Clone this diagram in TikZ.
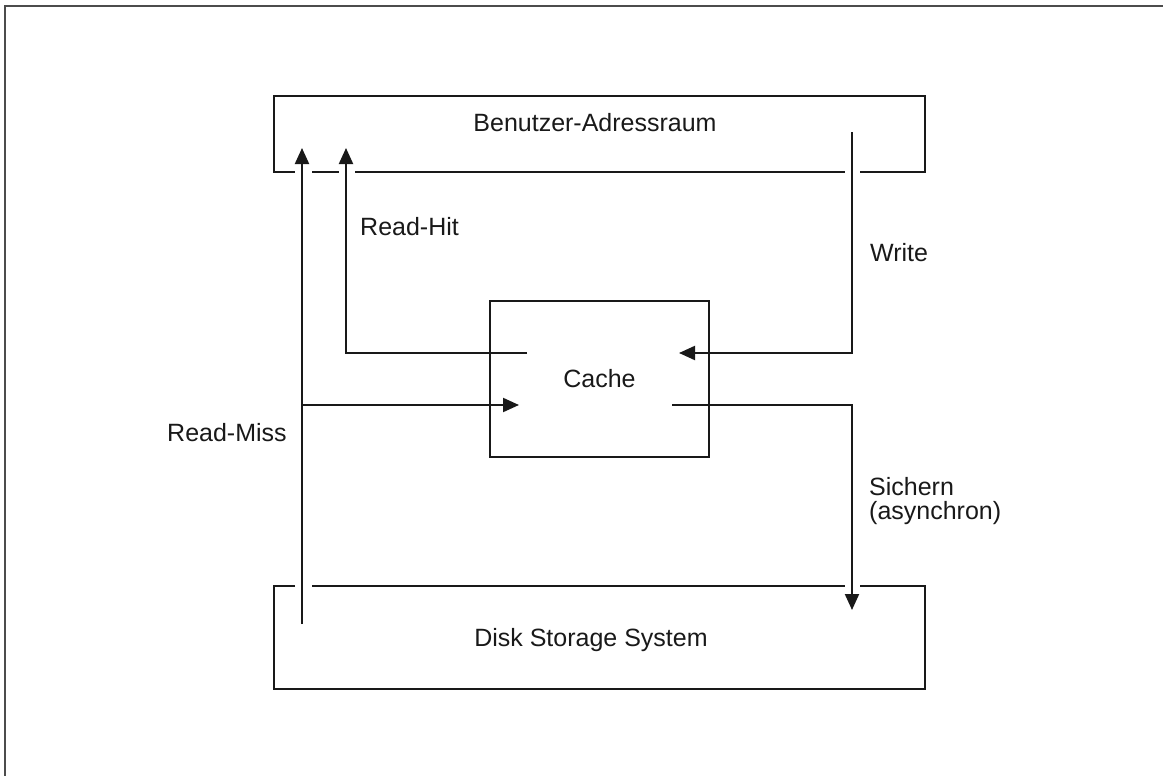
\documentclass[tikz,border=0pt]{standalone}
\usepackage{fontspec}
\setmainfont{Liberation Sans}
\usetikzlibrary{arrows.meta,positioning,calc}

\begin{document}
\begin{tikzpicture}[
  x=1pt, y=-1pt,
  line/.style={line width=2.1pt, black!90},
  arrow/.style={line, -{Triangle[length=16pt,width=14pt]}},
  lbl/.style={font=\fontsize{25}{24}\selectfont, text=black!90, inner sep=0pt},
  cachebox/.style={draw, line width=2.1pt, black!90, minimum width=219pt, minimum height=156pt, inner sep=0pt}
]
  \useasboundingbox (0,0) rectangle (1163,776);
  % outer frame (top and left only)
  \draw[line width=2.6pt, black!70] (5,776) -- (5,6) -- (1163,6);

  % Benutzer-Adressraum (bottom edge broken where the arrows pass)
  \draw[line] (860,172) -- (925,172) -- (925,96) -- (274,96) -- (274,172) -- (295,172);
  \draw[line] (312,172) -- (339,172);
  \draw[line] (355,172) -- (845,172);
  \node[lbl] (user) at (595,123) {Benutzer-Adressraum};

  % Disk Storage System (top edge broken where the arrows pass)
  \draw[line] (295,586) -- (274,586) -- (274,689) -- (925,689) -- (925,586) -- (860,586);
  \draw[line] (312,586) -- (845,586);
  \node[lbl] (disk) at (591,640) {Disk Storage System};

  % cache
  \node[cachebox, lbl, draw] (cache) at (599.5,379) {Cache};

  % connectors
  \coordinate (hit-out) at (527,353);
  \coordinate (hit-top) at (346,148);
  \coordinate (write-top) at (852,132);
  \coordinate (write-in) at (679,353);
  \coordinate (miss-bot) at (302,624);
  \coordinate (miss-top) at (302,148);
  \coordinate (miss-in) at (519,405);
  \coordinate (save-out) at (672,405);
  \coordinate (save-bot) at (852,610);

  \draw[arrow] (hit-out) -| (hit-top);
  \draw[arrow] (write-top) |- (write-in);
  \draw[arrow] (miss-bot) -- (miss-top);
  \draw[arrow] (miss-bot |- miss-in) -- (miss-in);
  \draw[arrow] (save-out) -| (save-bot);

  % labels
  \node[lbl, anchor=west] (hit-lbl) at (360,227) {Read-Hit};
  \node[lbl, anchor=west] (write-lbl) at (870,253) {Write};
  \node[lbl, anchor=west] (miss-lbl) at (167,433) {Read-Miss};
  \node[lbl, anchor=north west, align=left] (save-lbl) at (869,477) {Sichern\\(asynchron)};
\end{tikzpicture}
\end{document}
